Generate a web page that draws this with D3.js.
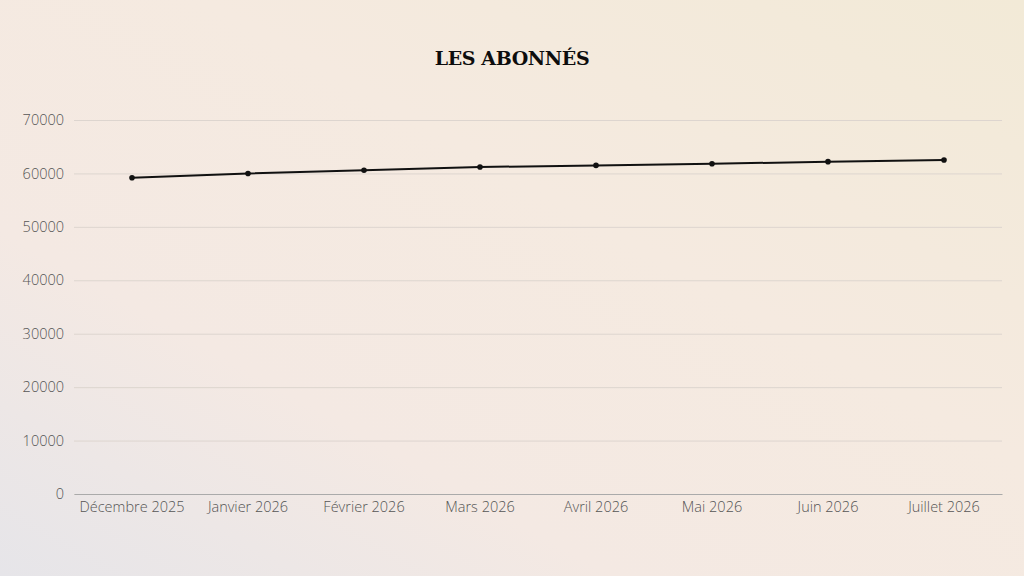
<!DOCTYPE html>
<html>
<head>
<meta charset="utf-8">
<script src="https://cdn.jsdelivr.net/npm/d3@7"></script>
<style>
  html, body { margin: 0; padding: 0; }
  body { width: 1024px; height: 576px; overflow: hidden; }
</style>
</head>
<body>
<div id="chart"></div>
<script>
const months = ["Décembre 2025", "Janvier 2026", "Février 2026", "Mars 2026",
  "Avril 2026", "Mai 2026", "Juin 2026", "Juillet 2026"];
const abonnes = [59200, 60000, 60600, 61200, 61500, 61800, 62200, 62500];
const yTicks = [0, 10000, 20000, 30000, 40000, 50000, 60000, 70000];

const drawChart = () => {
  const width = 1024;
  const height = 576;
  const left = 74, right = 1002, top = 120, bottom = 494;

  const svg = d3.select("#chart")
    .append("svg")
    .attr("width", width)
    .attr("height", height);

  // background gradient, grey bottom-left to cream top-right
  const grad = svg.append("defs")
    .append("linearGradient")
    .attr("id", "bg")
    .attr("x1", "0%").attr("y1", "100%")
    .attr("x2", "100%").attr("y2", "0%");
  grad.append("stop").attr("offset", "0%").attr("stop-color", "#e6e5e9");
  grad.append("stop").attr("offset", "30%").attr("stop-color", "#f4e9e3");
  grad.append("stop").attr("offset", "60%").attr("stop-color", "#f5eae0");
  grad.append("stop").attr("offset", "100%").attr("stop-color", "#f2ead7");

  svg.append("rect")
    .attr("width", width)
    .attr("height", height)
    .attr("fill", "url(#bg)");

  svg.append("text")
    .attr("x", 512)
    .attr("y", 65)
    .attr("text-anchor", "middle")
    .attr("font-family", "'DejaVu Serif', serif")
    .attr("font-weight", "900")
    .attr("font-size", 19)
    .attr("letter-spacing", -0.4)
    .attr("fill", "#0d0d0d")
    .text("LES ABONNÉS");

  const x = d3.scaleBand()
    .domain(months)
    .range([left, right]);

  const y = d3.scaleLinear()
    .domain([0, 70000])
    .range([bottom, top]);

  const yAxis = svg.append("g")
    .attr("transform", `translate(${left},0)`)
    .call(d3.axisLeft(y).tickValues(yTicks).tickFormat(d3.format("d"))
      .tickSize(-(right - left)).tickPadding(10));
  yAxis.select(".domain").remove();
  yAxis.selectAll(".tick line")
    .attr("stroke", "#ddd5cf")
    .attr("stroke-width", 1);
  yAxis.selectAll(".tick text")
    .attr("font-family", "'Open Sans', sans-serif")
    .attr("font-weight", 300)
    .attr("font-size", 14.5)
    .attr("fill", "#555");

  const xAxis = svg.append("g")
    .attr("transform", `translate(0,${bottom})`)
    .call(d3.axisBottom(x).tickSize(0).tickPadding(8));
  xAxis.select(".domain")
    .attr("stroke", "#aaa")
    .attr("stroke-width", 1);
  xAxis.selectAll(".tick text")
    .attr("font-family", "'Open Sans', sans-serif")
    .attr("font-weight", 300)
    .attr("font-size", 14.5)
    .attr("fill", "#555");

  const pts = months.map((m, i) => ({ m, v: abonnes[i] }));
  const cx = d => x(d.m) + x.bandwidth() / 2;

  svg.append("path")
    .datum(pts)
    .attr("fill", "none")
    .attr("stroke", "#111")
    .attr("stroke-width", 2)
    .attr("d", d3.line().x(cx).y(d => y(d.v)));

  svg.selectAll("circle")
    .data(pts)
    .enter()
    .append("circle")
    .attr("cx", cx)
    .attr("cy", d => y(d.v))
    .attr("r", 2.8)
    .attr("fill", "#111");
};

window.onload = drawChart;
</script>
</body>
</html>
